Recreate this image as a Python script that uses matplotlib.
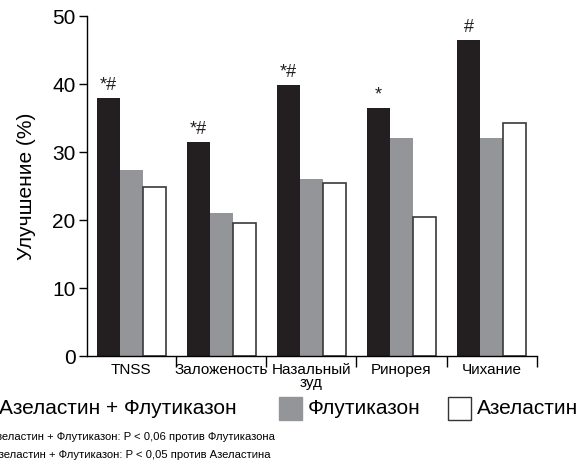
import matplotlib.pyplot as plt
import numpy as np
from matplotlib.patches import Rectangle

plt.rcParams['font.family'] = ['Liberation Sans', 'DejaVu Sans']

categories = ['TNSS', 'Заложеность', 'Назальный\nзуд', 'Ринорея', 'Чихание']
combo = [38.0, 31.4, 39.8, 36.5, 46.5]
fluticasone = [27.3, 21.1, 26.0, 32.0, 32.0]
azelastine = [24.8, 19.5, 25.4, 20.5, 34.3]
marks = ['*#', '*#', '*#', '*', '#']
series_names = ['Азеластин + Флутиказон', 'Флутиказон', 'Азеластин']
footnotes = ['*Азеластин + Флутиказон: P < 0,06 против Флутиказона',
             '#Азеластин + Флутиказон: P < 0,05 против Азеластина']

black = '#231f20'
gray = '#939598'

fig = plt.figure(figsize=(5.79, 4.68), dpi=100)
ax = fig.add_axes([0.150, 0.2393, 0.777, 0.7265])

x = np.arange(len(categories))
w = 0.255
ax.bar(x - w, combo, w, color=black, edgecolor=black, linewidth=0)
ax.bar(x, fluticasone, w, color=gray, edgecolor=gray, linewidth=0)
ax.bar(x + w, azelastine, w, color='white', edgecolor='#3a3a3a', linewidth=1.2)

for xi, v, m in zip(x, combo, marks):
    ax.text(xi - w, v + 0.6, m, ha='center', va='bottom', fontsize=13, color=black)

ax.set_xlim(-0.49, 4.49)
ax.set_ylim(0, 50)
ax.set_yticks([0, 10, 20, 30, 40, 50])
ax.tick_params(axis='y', direction='out', length=6, width=1, labelsize=15, pad=2)
ax.set_xticks(x)
ax.set_xticklabels(categories, fontsize=11, linespacing=0.95)
ax.tick_params(axis='x', length=0, pad=5)
ax.set_xticks(np.arange(0.5, 5, 1), minor=True)
ax.tick_params(axis='x', which='minor', direction='out', length=8, width=1)
for s in ['top', 'right']:
    ax.spines[s].set_visible(False)
for s in ['left', 'bottom']:
    ax.spines[s].set_linewidth(1)
ax.set_ylabel('Улучшение (%)', fontsize=15, labelpad=12)

# legend row, first marker sits past the left edge
legend_y = 397 / 468
size_w, size_h = 23 / 579, 23 / 468
boxes = [(-30, black, black), (279, gray, gray), (448, 'white', '#333333')]
text_x = [-1, 308, 477]
for (bx, fc, ec), tx, name in zip(boxes, text_x, series_names):
    fig.patches.append(Rectangle((bx / 579, 1 - legend_y - size_h), size_w, size_h,
                                 transform=fig.transFigure, facecolor=fc,
                                 edgecolor=ec, linewidth=1))
    fig.text(tx / 579, 1 - 409 / 468, name, fontsize=15, va='center', ha='left')

for i, t in enumerate(footnotes):
    fig.text(-15 / 579, 1 - (437 + 18 * i) / 468, t, fontsize=8.1, va='center', ha='left')

fig.savefig('out.png', dpi=100)
